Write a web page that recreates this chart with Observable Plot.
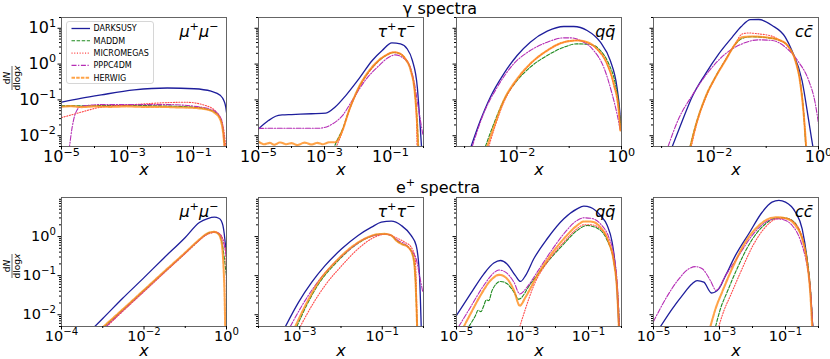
<!DOCTYPE html>
<html><head><meta charset="utf-8">
<script src="https://cdn.jsdelivr.net/npm/d3@7"></script>
<script src="https://cdn.jsdelivr.net/npm/@observablehq/plot@0.6"></script>
<style>
body{margin:0;background:#fff;}
#fig{position:relative;width:830px;height:359px;overflow:hidden;font-family:"DejaVu Sans",sans-serif;background:#fff}
</style></head><body><div id="fig"></div>
<script>
// ---------- series ----------
const seriesNames = ["DARKSUSY","MADDM","MICROMEGAS","PPPC4DM","HERWIG"];
const panelLabels = ["μ⁺μ⁻","τ⁺τ⁻","qq̄","cc̄"];
const rowTitles = ["γ spectra","e⁺ spectra"];

// x tick values / domains per panel
const xTicksGamma = [[1e-5,1e-3,1e-1],[1e-5,1e-3,1e-1],[1e-2,1],[1e-2,1]];
const xTicksPositron = [[1e-4,1e-2,1],[1e-3,1e-1],[1e-5,1e-3,1e-1],[1e-5,1e-3,1e-1]];
const xDomGamma = [[1e-5,1],[1e-5,1],[7e-4,1],[7e-4,1]];
const xDomPositron = [[1e-4,1],[1e-4,1],[1e-5,1],[1e-5,1]];
const yTicksGamma = [1e-2,1e-1,1,10];
const yTicksPositron = [1e-2,1e-1,1];
const yDomGamma = [5e-3,20];
const yDomPositron = [5e-3,10];

// ---------- gamma spectra ----------
const gammaMuMu = {
  DARKSUSY:[[1e-5,0.086],[3.8e-5,0.11],[1.6e-4,0.138],[1.6e-3,0.19],[0.016,0.215],[0.105,0.205],[0.34,0.175],[0.66,0.132],[0.83,0.096],[0.95,0.063],[1,0.045]],
  MADDM:[[1e-5,0.068],[1e-4,0.069],[1e-3,0.07],[0.01,0.068],[0.1,0.063],[0.42,0.047],[0.66,0.029],[0.8,0.013],[0.88,0.005]],
  MICROMEGAS:[[1e-5,0.032],[3.8e-5,0.045],[1.6e-4,0.063],[1.6e-3,0.074],[0.016,0.084],[0.06,0.086],[0.25,0.068],[0.5,0.045],[0.8,0.017],[0.95,0.005]],
  PPPC4DM:[[1.7e-5,0.004],[2.1e-5,0.017],[2.6e-5,0.04],[3.8e-5,0.065],[1.6e-4,0.074],[0.016,0.074],[0.13,0.065],[0.42,0.05],[0.72,0.027],[0.87,0.005]],
  HERWIG:[[1e-5,0.064],[2e-5,0.067],[4e-5,0.063],[1e-4,0.066],[3e-4,0.064],[1e-3,0.066],[3e-3,0.064],[0.01,0.064],[0.03,0.062],[0.1,0.06],[0.25,0.054],[0.42,0.045],[0.66,0.027],[0.8,0.011],[0.87,0.005]]
};
const gammaTauTau = {
  DARKSUSY:[[1e-5,0.0155],[2e-5,0.0265],[3.3e-5,0.035],[5.2e-5,0.038],[1e-4,0.039],[4e-4,0.041],[1.1e-3,0.043],[2.1e-3,0.063],[4.4e-3,0.132],[0.011,0.387],[0.028,1.26],[0.056,2.39],[0.11,3.9],[0.2,3.67],[0.32,2.67],[0.46,1.26],[0.65,0.226],[0.76,0.033],[0.87,0.005]],
  MADDM:[[1.8e-3,0.004],[2.5e-3,0.008],[3.5e-3,0.015],[5.5e-3,0.05],[0.011,0.22],[0.028,0.8],[0.071,1.7],[0.126,2.1],[0.18,2.0],[0.28,1.4],[0.41,0.68],[0.55,0.16],[0.65,0.02],[0.7,0.004]],
  MICROMEGAS:[[2e-3,0.004],[3e-3,0.009],[4e-3,0.02],[5.5e-3,0.048],[0.011,0.21],[0.028,0.78],[0.071,1.75],[0.126,2.15],[0.18,2.05],[0.28,1.45],[0.41,0.7],[0.55,0.15],[0.62,0.02],[0.64,0.004]],
  PPPC4DM:[[1e-5,0.016],[3.3e-5,0.0162],[6.8e-4,0.0162],[1.7e-3,0.021],[3.5e-3,0.0366],[6.9e-3,0.096],[0.017,0.348],[0.045,0.91],[0.089,1.56],[0.14,1.81],[0.22,1.56],[0.36,1.0],[0.51,0.348],[0.72,0.05],[0.95,0.011]],
  HERWIG:[[1e-5,0.0068],[1.5e-5,0.0058],[2.2e-5,0.0063],[3e-5,0.0056],[4.5e-5,0.0065],[7e-5,0.0058],[1e-4,0.0062],[1.5e-4,0.0055],[2.5e-4,0.0064],[4e-4,0.0057],[6e-4,0.0063],[9e-4,0.0058],[1.4e-3,0.0066],[2.1e-3,0.0066],[3.5e-3,0.014],[5.5e-3,0.05],[0.011,0.226],[0.0275,0.82],[0.071,1.74],[0.126,2.14],[0.178,2.01],[0.28,1.4],[0.41,0.66],[0.55,0.148],[0.65,0.017],[0.69,0.005]]
};
const gammaQQ = {
  DARKSUSY:[[1.33e-3,0.005],[2e-3,0.0265],[3.1e-3,0.119],[5.6e-3,0.535],[0.0101,1.74],[0.018,4.09],[0.038,8.3],[0.079,11.2],[0.122,11.2],[0.22,8.7],[0.395,4.09],[0.61,1.26],[0.82,0.226],[0.925,0.05],[0.98,0.014]],
  MADDM:[[2.5e-3,0.005],[3.4e-3,0.017],[5.6e-3,0.096],[0.0101,0.348],[0.018,0.82],[0.038,1.74],[0.079,2.96],[0.141,3.67],[0.255,3.52],[0.395,2.39],[0.57,1.02],[0.76,0.281],[0.91,0.05],[0.97,0.014]],
  MICROMEGAS:[[2.9e-3,0.005],[3.8e-3,0.018],[5.6e-3,0.085],[0.0101,0.37],[0.018,1.0],[0.038,2.4],[0.079,4.1],[0.141,4.6],[0.22,4.0],[0.34,2.6],[0.53,1.0],[0.71,0.27],[0.885,0.05],[0.95,0.014]],
  PPPC4DM:[[1.4e-3,0.005],[2.3e-3,0.041],[4.2e-3,0.226],[8.7e-3,1.02],[0.018,2.39],[0.038,4.09],[0.079,5.4],[0.105,5.4],[0.164,4.56],[0.295,2.39],[0.457,0.82],[0.66,0.148],[0.82,0.041],[0.95,0.014]],
  HERWIG:[[2.7e-3,0.005],[3.6e-3,0.017],[5.6e-3,0.096],[0.0101,0.387],[0.018,1.02],[0.038,2.39],[0.079,4.09],[0.141,4.56],[0.22,4.09],[0.34,2.67],[0.53,1.02],[0.71,0.281],[0.885,0.05],[0.95,0.014]]
};
const gammaCC = {
  DARKSUSY:[[1.6e-3,0.005],[2.5e-3,0.0265],[3.8e-3,0.119],[6.9e-3,0.535],[0.0124,1.93],[0.0223,5.6],[0.033,11],[0.05,17.5],[0.072,17.6],[0.13,12],[0.233,5.6],[0.31,2.39],[0.485,0.348],[0.65,0.0265],[0.73,0.009],[0.78,0.005]],
  MADDM:[[3.5e-3,0.005],[4.4e-3,0.018],[6.9e-3,0.12],[0.0107,0.44],[0.0166,1.3],[0.0258,3.6],[0.0346,5.2],[0.054,5.8],[0.097,5.5],[0.174,4.7],[0.27,3.0],[0.36,1.3],[0.45,0.3],[0.52,0.045],[0.57,0.005]],
  MICROMEGAS:[[3.7e-3,0.005],[4.5e-3,0.017],[6.9e-3,0.11],[0.0107,0.42],[0.0166,1.3],[0.0258,3.8],[0.0346,6.9],[0.046,7.4],[0.07,7.0],[0.097,6.6],[0.13,6.0],[0.174,4.8],[0.27,3.0],[0.36,1.3],[0.45,0.29],[0.52,0.045],[0.58,0.005]],
  PPPC4DM:[[1.33e-3,0.005],[2.1e-3,0.029],[3.8e-3,0.13],[8e-3,0.63],[0.0166,1.93],[0.0346,3.67],[0.072,4.76],[0.13,4.56],[0.233,2.96],[0.42,1.12],[0.65,0.348],[0.87,0.078],[1.0,0.0215]],
  HERWIG:[[3.56e-3,0.005],[4.4e-3,0.017],[6.9e-3,0.119],[0.0107,0.43],[0.0166,1.26],[0.0258,3.67],[0.0346,5.6],[0.054,5.9],[0.097,5.6],[0.174,4.76],[0.27,2.96],[0.36,1.26],[0.45,0.281],[0.52,0.041],[0.58,0.005]]
};

// ---------- positron spectra ----------
const posMuMu = {
  DARKSUSY:[[6.4e-4,0.005],[1e-3,0.008],[3e-3,0.026],[0.01,0.089],[0.03,0.28],[0.1,0.95],[0.22,2.3],[0.35,2.9],[0.51,3.13],[0.65,2.95],[0.74,2.58],[0.82,1.9],[0.88,1.2],[0.93,0.7],[0.97,0.5],[1,0.4]],
  MADDM:[[1.1e-3,0.005],[3e-3,0.013],[0.01,0.042],[0.03,0.12],[0.1,0.38],[0.2,0.75],[0.3,1.08],[0.4,1.27],[0.5,1.3],[0.62,1.2],[0.72,0.95],[0.8,0.6],[0.88,0.3],[0.95,0.15],[1,0.1]],
  MICROMEGAS:[[1.25e-3,0.005],[3e-3,0.012],[0.01,0.039],[0.03,0.115],[0.1,0.37],[0.2,0.73],[0.3,1.05],[0.4,1.22],[0.55,1.3],[0.7,1.15],[0.85,0.75],[0.95,0.4],[0.99,0.1],[1,0.005]],
  PPPC4DM:[[1.2e-3,0.005],[3e-3,0.0125],[0.01,0.04],[0.03,0.118],[0.1,0.375],[0.2,0.74],[0.3,1.06],[0.4,1.24],[0.55,1.3],[0.7,1.12],[0.85,0.7],[0.95,0.4],[1,0.3]],
  HERWIG:[[1.05e-3,0.005],[3e-3,0.0135],[0.01,0.043],[0.03,0.124],[0.1,0.39],[0.2,0.77],[0.3,1.1],[0.4,1.28],[0.5,1.32],[0.62,1.2],[0.72,0.9],[0.8,0.45],[0.86,0.12],[0.9,0.03],[0.93,0.005]]
};
const posTauTau = {
  DARKSUSY:[[4.5e-4,0.005],[9.4e-4,0.021],[1.96e-3,0.068],[4.1e-3,0.18],[0.0104,0.486],[0.026,1.07],[0.055,1.74],[0.095,2.33],[0.166,2.48],[0.29,1.92],[0.5,1.07],[0.665,0.59],[0.8,0.1],[0.88,0.005]],
  MADDM:[[8.5e-4,0.005],[1.45e-3,0.017],[3e-3,0.066],[7.5e-3,0.21],[0.019,0.53],[0.046,0.95],[0.079,1.13],[0.115,1.16],[0.166,1.07],[0.22,0.8],[0.29,0.66],[0.42,0.55],[0.55,0.34],[0.63,0.1],[0.7,0.005]],
  MICROMEGAS:[[1.03e-3,0.005],[1.96e-3,0.017],[4.1e-3,0.056],[0.0104,0.18],[0.026,0.486],[0.055,0.88],[0.095,1.11],[0.138,1.15],[0.2,0.97],[0.35,0.72],[0.5,0.54],[0.63,0.27],[0.7,0.005]],
  PPPC4DM:[[5.9e-4,0.005],[1.13e-3,0.017],[2.36e-3,0.056],[5.96e-3,0.18],[0.015,0.44],[0.038,0.88],[0.079,1.11],[0.115,1.15],[0.166,1.07],[0.24,0.79],[0.35,0.65],[0.5,0.44],[0.665,0.27],[0.8,0.1],[0.96,0.038]],
  HERWIG:[[7.8e-4,0.005],[1.36e-3,0.017],[2.84e-3,0.068],[7.2e-3,0.22],[0.018,0.54],[0.046,0.97],[0.079,1.15],[0.115,1.17],[0.166,1.07],[0.22,0.79],[0.29,0.65],[0.42,0.54],[0.55,0.33],[0.63,0.1],[0.7,0.005]]
};
const posQQ = {
  DARKSUSY:[[1e-5,0.0096],[2.65e-5,0.034],[6.7e-5,0.11],[1.35e-4,0.21],[2.15e-4,0.244],[3.4e-4,0.2],[6.1e-4,0.1],[8.7e-4,0.071],[1.23e-3,0.1],[2.2e-3,0.27],[5.6e-3,0.88],[0.0179,2.85],[0.045,5.1],[0.072,6.0],[0.115,5.6],[0.23,3.47],[0.37,1.92],[0.52,0.72],[0.66,0.15],[0.74,0.038],[0.83,0.005]],
  MADDM:[[2.37e-5,0.005],[3.77e-5,0.0096],[4.5e-5,0.013],[5.5e-5,0.012],[6.7e-5,0.017],[8e-5,0.024],[9.5e-5,0.023],[1.2e-4,0.042],[2.15e-4,0.071],[3.43e-4,0.062],[5.5e-4,0.038],[7.7e-4,0.025],[1.75e-3,0.062],[5.6e-3,0.22],[0.0179,0.65],[0.045,1.43],[0.091,1.92],[0.183,1.64],[0.37,0.79],[0.59,0.22],[0.77,0.031],[0.87,0.005]],
  MICROMEGAS:[[8.3e-4,0.005],[1.23e-3,0.0142],[2.2e-3,0.056],[5.6e-3,0.22],[0.0179,0.72],[0.045,1.58],[0.072,2.0],[0.115,2.0],[0.23,1.58],[0.41,0.72],[0.59,0.22],[0.77,0.031],[0.85,0.005]],
  PPPC4DM:[[1.17e-5,0.005],[2.65e-5,0.0156],[6.7e-5,0.056],[1.35e-4,0.118],[1.92e-4,0.14],[3.05e-4,0.123],[5.5e-4,0.068],[8.3e-4,0.034],[1.38e-3,0.051],[2.78e-3,0.123],[7e-3,0.4],[0.0179,1.18],[0.045,2.58],[0.072,3.02],[0.115,2.95],[0.23,2.12],[0.41,0.97],[0.59,0.33],[0.74,0.068],[0.87,0.005]],
  HERWIG:[[1.67e-5,0.005],[2.65e-5,0.0105],[5.3e-5,0.031],[1.07e-4,0.075],[1.92e-4,0.105],[3.05e-4,0.091],[5.5e-4,0.042],[8.3e-4,0.017],[1.23e-3,0.028],[2.78e-3,0.1],[7e-3,0.33],[0.0179,0.88],[0.045,1.92],[0.072,2.43],[0.115,2.43],[0.23,1.74],[0.41,0.72],[0.59,0.22],[0.74,0.038],[0.83,0.005]]
};
const posCC = {
  DARKSUSY:[[1.63e-5,0.005],[3.7e-5,0.0142],[7.4e-5,0.031],[1.49e-4,0.062],[2.1e-4,0.075],[3.35e-4,0.068],[5.7e-4,0.036],[9.5e-4,0.046],[1.52e-3,0.1],[3.05e-3,0.33],[7.7e-3,1.18],[0.0196,4.2],[0.039,7.6],[0.063,8.4],[0.1,7.6],[0.2,4.2],[0.32,1.58],[0.45,0.27],[0.57,0.038],[0.67,0.005]],
  MADDM:[[7.6e-4,0.005],[1.07e-3,0.0142],[1.7e-3,0.038],[3.4e-3,0.15],[8.7e-3,0.72],[0.0218,1.92],[0.05,2.95],[0.089,3.02],[0.16,2.58],[0.285,1.18],[0.45,0.27],[0.57,0.046],[0.67,0.005]],
  MICROMEGAS:[[9.5e-4,0.005],[1.35e-3,0.0125],[2.15e-3,0.031],[4.3e-3,0.12],[0.011,0.65],[0.0245,1.74],[0.056,2.85],[0.1,2.95],[0.18,2.33],[0.32,0.97],[0.45,0.22],[0.58,0.031],[0.67,0.005]],
  PPPC4DM:[[1e-5,0.0067],[2.3e-5,0.025],[5.9e-5,0.083],[1.18e-4,0.15],[1.87e-4,0.17],[3e-4,0.15],[5.3e-4,0.075],[7.9e-4,0.042],[1.52e-3,0.1],[3.85e-3,0.33],[9.8e-3,1.07],[0.0248,2.33],[0.05,2.85],[0.079,2.74],[0.16,1.92],[0.285,0.79],[0.45,0.18],[0.57,0.046],[0.67,0.005]],
  HERWIG:[[5.3e-4,0.005],[7.6e-4,0.0142],[1.2e-3,0.038],[2.4e-3,0.15],[6.1e-3,0.72],[0.0156,1.92],[0.039,3.02],[0.063,3.13],[0.1,2.95],[0.2,1.92],[0.32,0.88],[0.45,0.22],[0.57,0.031],[0.64,0.005]]
};

// ---------- styles & layout ----------
const seriesColors = ["#1e1e9c","#1f8a1f","#ff4a4a","#b52db5","#ff8c1a"];
const seriesDash = [undefined,"3.5,1.6","1.1,1.6","5,1.6,1.2,1.6","3.5,1.2"];
const seriesWidth = [1.3,1.1,1.1,1.1,2.1];
const seriesOpacity = [1,1,1,1,0.8];

const colLefts = [61,258,456,653];
const panelW = 165, panelH = 129;
const ML = 45, MR = 16, MT = 6, MB = 36;
const rows = [
  {top:17, ydom:yDomGamma, yMajor:yTicksGamma, font:16, xlabDy:23.5, data:[gammaMuMu,gammaTauTau,gammaQQ,gammaCC], xTicks:xTicksGamma, xDom:xDomGamma},
  {top:197, ydom:yDomPositron, yMajor:yTicksPositron, font:14.5, xlabDy:24.5, data:[posMuMu,posTauTau,posQQ,posCC], xTicks:xTicksPositron, xDom:xDomPositron}
];

const SUP = {"-":"⁻","0":"⁰","1":"¹","2":"²","3":"³","4":"⁴","5":"⁵","6":"⁶","7":"⁷","8":"⁸","9":"⁹"};
const UNSUP = {"⁻":"−","⁺":"+","⁰":"0","¹":"1","²":"2","³":"3","⁴":"4","⁵":"5","⁶":"6","⁷":"7","⁸":"8","⁹":"9"};
const sup = v => "10" + String(Math.round(Math.log10(v))).split("").map(c => SUP[c]).join("");
const blank = () => "";

function minorY(dom) {
  const out = [];
  for (let e = -4; e <= 2; e++) for (let k = 2; k <= 9; k++) {
    const v = k * Math.pow(10, e);
    if (v >= dom[0] && v <= dom[1]) out.push(v);
  }
  return out;
}
function minorX(dom, major) {
  const out = [];
  for (let e = -6; e <= 0; e++) {
    const v = Math.pow(10, e);
    if (v >= dom[0] * 0.999 && v <= dom[1] * 1.001 && !major.some(m => Math.abs(Math.log10(m) - e) < 1e-6)) out.push(v);
  }
  return out;
}

// turn unicode superscripts into raised, smaller tspans (mathtext-like)
function raiseSuperscripts(svg) {
  d3.select(svg).selectAll("text").each(function() {
    const s = this.textContent;
    if (!/[⁻⁺⁰¹²³⁴⁵⁶⁷⁸⁹]/.test(s)) return;
    const fs = parseFloat(getComputedStyle(this).fontSize) || 16;
    const segs = [];
    for (const ch of s) {
      const isSup = ch in UNSUP;
      const c = isSup ? UNSUP[ch] : ch;
      if (segs.length && segs[segs.length - 1].sup === isSup) segs[segs.length - 1].t += c;
      else segs.push({sup: isSup, t: c});
    }
    const t = d3.select(this);
    t.text("");
    let prevSup = false;
    segs.forEach(seg => {
      const sp = t.append("tspan").text(seg.t);
      if (seg.sup) {
        sp.attr("font-size", (fs * 0.7) + "px");
        if (!prevSup) sp.attr("dy", (-0.42 * fs) + "px");
      } else if (prevSup) {
        sp.attr("dy", (0.42 * fs) + "px");
      }
      prevSup = seg.sup;
    });
  });
}

const fig = document.getElementById("fig");

rows.forEach((row, r) => {
  row.data.forEach((pdata, c) => {
    const xdom = row.xDom[c];
    const lines = seriesNames.map((name, i) => Plot.line(pdata[name], {
      x: d => d[0], y: d => d[1],
      stroke: seriesColors[i], strokeWidth: seriesWidth[i],
      strokeDasharray: seriesDash[i], strokeOpacity: seriesOpacity[i],
      curve: "monotone-x", clip: true
    }));
    const chart = Plot.plot({
      width: ML + panelW + MR, height: MT + panelH + MB,
      marginLeft: ML, marginRight: MR, marginTop: MT, marginBottom: MB,
      style: {background: "transparent", fontFamily: "DejaVu Sans", overflow: "visible", color: "#000"},
      x: {type: "log", domain: xdom},
      y: {type: "log", domain: row.ydom},
      marks: [
        ...lines,
        Plot.frame({stroke: "#555", strokeWidth: 0.9}),
        Plot.axisX({ticks: minorX(xdom, row.xTicks[c]), tickSize: 2, tickFormat: blank, label: null}),
        Plot.axisX({ticks: row.xTicks[c], tickSize: 3.5, tickPadding: 1, tickFormat: sup, fontSize: row.font, label: null}),
        Plot.axisY({ticks: minorY(row.ydom), tickSize: 2, tickFormat: blank, label: null}),
        Plot.axisY({ticks: row.yMajor, tickSize: 3.5, tickPadding: 2, tickFormat: c === 0 ? sup : blank, fontSize: row.font, label: null}),
        Plot.text([panelLabels[c]], {text: d => d, frameAnchor: "top-right", lineAnchor: "middle", dx: c < 2 ? -8 : -6, dy: 14, fontSize: 16, fontStyle: "italic"}),
        Plot.text(["x"], {text: d => d, frameAnchor: "bottom", lineAnchor: "middle", dy: row.xlabDy, fontSize: 16, fontStyle: "italic"})
      ]
    });
    chart.style.position = "absolute";
    chart.style.left = (colLefts[c] - ML) + "px";
    chart.style.top = (row.top - MT) + "px";
    fig.appendChild(chart);
    raiseSuperscripts(chart);
  });
});

// ---------- overlay: titles, y labels, legend ----------
const ov = d3.select(fig).append("svg")
  .attr("width", 830).attr("height", 359)
  .style("position", "absolute").style("left", "0px").style("top", "0px")
  .style("font-family", "DejaVu Sans").style("pointer-events", "none");

ov.append("text").attr("x", 440).attr("y", 14).attr("text-anchor", "middle").attr("font-size", 16).text(rowTitles[0]);
ov.append("text").attr("x", 438).attr("y", 193).attr("text-anchor", "middle").attr("font-size", 16).text(rowTitles[1]);

[78, 266].forEach(cy => {
  const g = ov.append("g").attr("transform", `translate(12,${cy}) rotate(-90)`);
  const t1 = g.append("text").attr("x", 0).attr("y", -2.4).attr("text-anchor", "middle").attr("font-size", 9);
  t1.append("tspan").text("d");
  t1.append("tspan").attr("font-style", "italic").text("N");
  g.append("line").attr("x1", -12).attr("x2", 12).attr("y1", 0).attr("y2", 0).attr("stroke", "#000").attr("stroke-width", 0.6);
  const t2 = g.append("text").attr("x", 0).attr("y", 8.4).attr("text-anchor", "middle").attr("font-size", 9);
  t2.append("tspan").text("dlog");
  t2.append("tspan").attr("font-style", "italic").text("x");
});

const lg = ov.append("g").attr("transform", "translate(66.5,21.5)");
lg.append("rect").attr("width", 87).attr("height", 62).attr("rx", 2.5)
  .attr("fill", "white").attr("fill-opacity", 0.85).attr("stroke", "#cccccc").attr("stroke-width", 0.8);
seriesNames.forEach((n, i) => {
  const y = 7 + i * 12.3;
  lg.append("line").attr("x1", 5).attr("x2", 23.5).attr("y1", y).attr("y2", y)
    .attr("stroke", seriesColors[i]).attr("stroke-width", seriesWidth[i])
    .attr("stroke-dasharray", seriesDash[i] || null).attr("stroke-opacity", seriesOpacity[i]);
  lg.append("text").attr("x", 27).attr("y", y).attr("dy", "0.35em").attr("font-size", 8).text(n);
});
raiseSuperscripts(ov.node());
</script></body></html>
